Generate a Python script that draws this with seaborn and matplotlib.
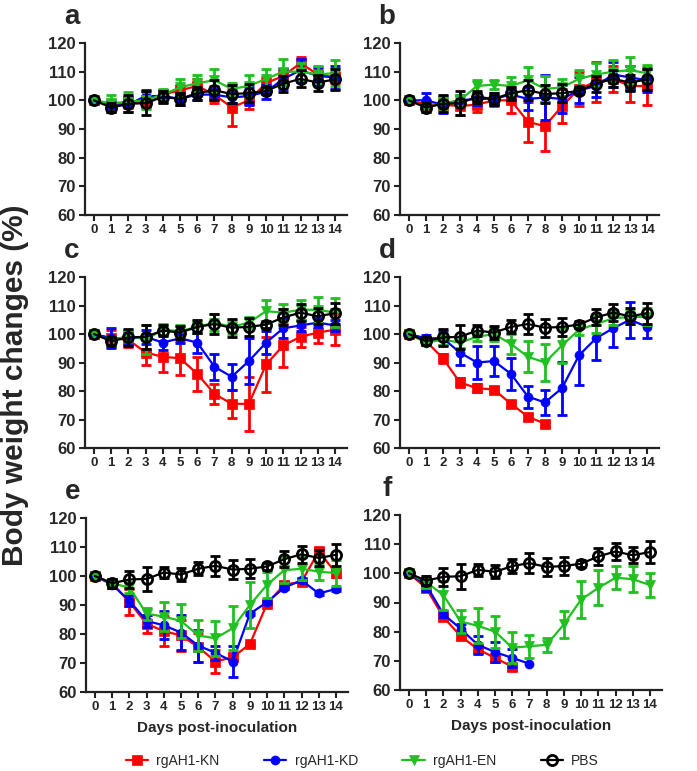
import numpy as np
import pandas as pd
import matplotlib
matplotlib.use("Agg")
import matplotlib.pyplot as plt
import seaborn as sns

nan = np.nan
days = list(range(15))
panels = ["a", "b", "c", "d", "e", "f"]
groups = ["rgAH1-KN", "rgAH1-KD", "rgAH1-EN", "PBS"]

# PBS control (same in all panels)
pbs = [100, 97.5, 98.8, 99, 101.2, 100.5, 102.5, 103.5, 102.2, 102.5, 103.3, 105.8, 107.5, 106.2, 107.3]
pbs_sd = [0, 1.5, 3, 4.2, 2, 2.2, 2.3, 3.5, 3.2, 3.2, 1.2, 2.8, 3, 2.8, 3.7]

# panel a
a_kn = [100, 98, 99.5, 99.5, 102, 103.5, 105, 102, 97.5, 100, 106, 108.5, 113, 109, 108]
a_kn_sd = [0, 1.5, 2, 2, 1.5, 2, 2.5, 3, 6.5, 3, 2, 2.5, 2, 2, 2]
a_kd = [100, 98, 98.5, 101.5, 101.5, 100.5, 102, 102, 101, 101.5, 103, 107.5, 110.5, 108.5, 108]
a_kd_sd = [0, 2, 2.5, 2, 2, 2, 2, 2, 2, 3, 2.5, 3.5, 4, 3, 4]
a_en = [100, 99, 99.5, 100, 102, 104.5, 106, 107, 104, 105, 107.5, 110, 110, 109, 109.5]
a_en_sd = [0, 3, 3.5, 3, 2, 3, 3, 4, 2, 4, 3.5, 4.5, 3, 3, 4.5]

# panel b
b_kn = [100, 98.5, 98.5, 98, 98.5, 100, 100, 92.5, 91, 98, 104, 106.5, 107.5, 105, 105]
b_kn_sd = [0, 1.5, 2, 3, 2.5, 2, 4.5, 7, 8.5, 6, 6, 7, 4.5, 5.5, 6.5]
b_kd = [100, 100, 98.5, 100, 100.5, 100.5, 102, 100.5, 101, 100.5, 103.5, 105, 109, 108, 107]
b_kd_sd = [0, 2.5, 3, 2, 2, 2, 2, 4, 8, 5, 4.5, 4, 4.5, 4, 4]
b_en = [100, 97.5, 99, 100, 105, 105.5, 105, 107, 104, 104.5, 107.5, 109, 110, 110.5, 109.5]
b_en_sd = [0, 1.5, 2, 2, 2, 1.5, 3, 4.5, 4.5, 3, 3, 4, 4, 4.5, 3]

# panel c
c_kn = [100, 98.5, 98, 93.5, 92, 91.5, 86, 79, 75.5, 75.5, 89.3, 96, 99, 100.5, 101.5]
c_kn_sd = [0, 3, 2.5, 4.5, 5.5, 6, 6, 3.5, 5, 9.5, 9.5, 7.5, 3.5, 3.5, 5.5]
c_kd = [100, 98.5, 98.5, 99, 97, 98.5, 97, 88.5, 85, 90.5, 97, 102, 103, 104, 103]
c_kd_sd = [0, 3.5, 2.5, 2.5, 2.5, 1.5, 3.5, 4.5, 4.5, 8, 4, 3.5, 2, 1.5, 2]
c_en = [100, 97.5, 99.5, 98, 101.5, 101, 102.5, 104, 102.5, 104, 108, 107.5, 108.5, 108.5, 107.5]
c_en_sd = [0, 1.5, 2, 5, 2, 2, 2, 3, 2.5, 2, 4, 3, 3.5, 4.5, 5]

# panel d
d_kn = [100, 97.5, 91.5, 83, 81, 80.5, 75.5, 71, 68.5, nan, nan, nan, nan, nan, nan]
d_kn_sd = [0, 1, 1.5, 1.5, 1.5, 1, 1, 1, 1, nan, nan, nan, nan, nan, nan]
d_kd = [100, 98.5, 98.5, 93.5, 90, 90.5, 86, 78, 76, 81, 92.5, 98.5, 102, 105, 102.5]
d_kd_sd = [0, 1, 2.5, 4.5, 5.8, 5.3, 5.5, 3.8, 4.5, 9.3, 10.3, 7.7, 6.5, 6.3, 4]
d_en = [100, 97, 98, 97, 99, 100, 96.5, 92, 90, 96, 101.5, 103.5, 105.5, 106, 106]
d_en_sd = [0, 1, 2, 2, 1.5, 2.5, 3.5, 5.5, 6.5, 6, 2, 3, 2.5, 2.5, 3]

# panel e
e_kn = [100, 97.5, 91, 83.5, 81, 79.5, 75.5, 70.5, 72, 76.5, 90.5, 97, 98, 108.5, 101]
e_kn_sd = [0, 1.5, 4.5, 3, 5.3, 5.5, 5, 4, 1, 0.5, 0.5, 1, 0.5, 1, 1.5]
e_kd = [100, 97, 91.5, 84.5, 83, 80.5, 76, 73.5, 70.5, 87, 91, 96, 98.5, 94, 95.5]
e_kd_sd = [0, 1, 2, 2, 4.8, 6, 5.5, 2.5, 5.3, 0.5, 0.5, 0.5, 0.5, 0.5, 0.5]
e_en = [100, 97.5, 96, 87, 86, 84.5, 79.5, 78.5, 82, 90, 97, 102, 102.5, 101.5, 101]
e_en_sd = [0, 1, 2, 2, 5, 6, 5.5, 6, 7.5, 8, 4.5, 4.5, 4, 3, 4.5]

# panel f
f_kn = [100, 95, 85, 78.5, 74, 71, 68, nan, nan, nan, nan, nan, nan, nan, nan]
f_kn_sd = [0, 1, 1, 1, 1, 1, 1, nan, nan, nan, nan, nan, nan, nan, nan]
f_kd = [100, 96, 86, 81, 75.5, 73, 71, 69, nan, nan, nan, nan, nan, nan, nan]
f_kd_sd = [0, 2, 1, 1.5, 3, 3.5, 3, 0, nan, nan, nan, nan, nan, nan, nan]
f_en = [100, 97, 92.5, 83.5, 82, 80, 74.5, 75, 75.5, 82.5, 91, 95, 98.5, 98, 96]
f_en_sd = [0, 2, 5, 4, 6, 5.5, 5.3, 4, 2.5, 4.5, 6.3, 6, 4, 4.5, 4]

data = {
    "a": [(a_kn, a_kn_sd), (a_kd, a_kd_sd), (a_en, a_en_sd), (pbs, pbs_sd)],
    "b": [(b_kn, b_kn_sd), (b_kd, b_kd_sd), (b_en, b_en_sd), (pbs, pbs_sd)],
    "c": [(c_kn, c_kn_sd), (c_kd, c_kd_sd), (c_en, c_en_sd), (pbs, pbs_sd)],
    "d": [(d_kn, d_kn_sd), (d_kd, d_kd_sd), (d_en, d_en_sd), (pbs, pbs_sd)],
    "e": [(e_kn, e_kn_sd), (e_kd, e_kd_sd), (e_en, e_en_sd), (pbs, pbs_sd)],
    "f": [(f_kn, f_kn_sd), (f_kd, f_kd_sd), (f_en, f_en_sd), (pbs, pbs_sd)],
}

sns.set_style("ticks")
plt.rcParams["font.family"] = ["Liberation Sans", "DejaVu Sans"]
plt.rcParams["font.weight"] = "bold"

colors = ["#ff0000", "#0000ff", "#1fc01f", "#000000"]
styles = [
    dict(marker="s", markersize=6.5, markerfacecolor="#ff0000", markeredgecolor="#ff0000", markeredgewidth=0.5),
    dict(marker="o", markersize=6.5, markerfacecolor="#0000ff", markeredgecolor="#0000ff", markeredgewidth=0.5),
    dict(marker="v", markersize=6.5, markerfacecolor="#1fc01f", markeredgecolor="#1fc01f", markeredgewidth=0.5),
    dict(marker="o", markersize=7.3, markerfacecolor="none", markeredgecolor="#000000", markeredgewidth=2.0),
]

fig = plt.figure(figsize=(6.97, 7.71), dpi=100)
W, H = 697.0, 771.0
# (left px, top px, right px, bottom px)
boxes = {
    "a": (85, 43, 347, 215),
    "b": (400, 43, 659, 215),
    "c": (85, 277, 347, 448),
    "d": (400, 277, 659, 448),
    "e": (86, 518, 348, 692),
    "f": (400, 515, 662, 690),
}

handles = []
for p in panels:
    l, t, r, b = boxes[p]
    ax = fig.add_axes([l / W, 1 - b / H, (r - l) / W, (b - t) / H])
    for gi, (mean, sd) in enumerate(data[p]):
        df = pd.DataFrame({"day": days, "w": mean, "sd": sd}).dropna()
        eb = df[df["sd"] > 0]
        ax.errorbar(eb["day"], eb["w"], yerr=eb["sd"], fmt="none", ecolor=colors[gi],
                    elinewidth=2.0, capsize=3.5, capthick=2.0, zorder=2 + gi)
        sns.lineplot(data=df, x="day", y="w", ax=ax, color=colors[gi], linewidth=1.6,
                     sort=False, zorder=2.5 + gi, label=groups[gi], **styles[gi])
    if p == "a":
        handles, labels = ax.get_legend_handles_labels()
    if ax.get_legend() is not None:
        ax.get_legend().remove()
    ax.set_xlim(-0.52, 14.7)
    ax.set_ylim(60, 120)
    ax.set_yticks([60, 70, 80, 90, 100, 110, 120])
    ax.set_xticks(days)
    ax.set_xticklabels([str(d) for d in days], fontsize=9.5, fontweight="bold")
    ax.set_yticklabels(["60", "70", "80", "90", "100", "110", "120"], fontsize=12, fontweight="bold")
    ax.set_xlabel("")
    ax.set_ylabel("")
    for s in ["left", "bottom"]:
        ax.spines[s].set_linewidth(1.6)
        ax.spines[s].set_color("#222222")
    sns.despine(ax=ax)
    ax.tick_params(axis="both", width=1.5, length=4.5, color="#222222", pad=2)
    ax.text(-0.05, 1.15, p, transform=ax.transAxes, fontsize=20, fontweight="bold",
            ha="center", va="center")
    if p in ("e", "f"):
        ax.set_xlabel("Days post-inoculation", fontsize=11, fontweight="bold", labelpad=6)

fig.text(0.022, 0.5, "Body weight changes (%)", rotation=90, fontsize=21.5,
         fontweight="bold", ha="center", va="center")

fig.legend(handles, groups, loc="center", bbox_to_anchor=(0.52, 1 - 761 / H), ncol=4,
           frameon=False, handlelength=1.6, handletextpad=0.6, columnspacing=3.2,
           prop={"weight": "normal", "size": 10})

fig.savefig("out.png", dpi=100)
